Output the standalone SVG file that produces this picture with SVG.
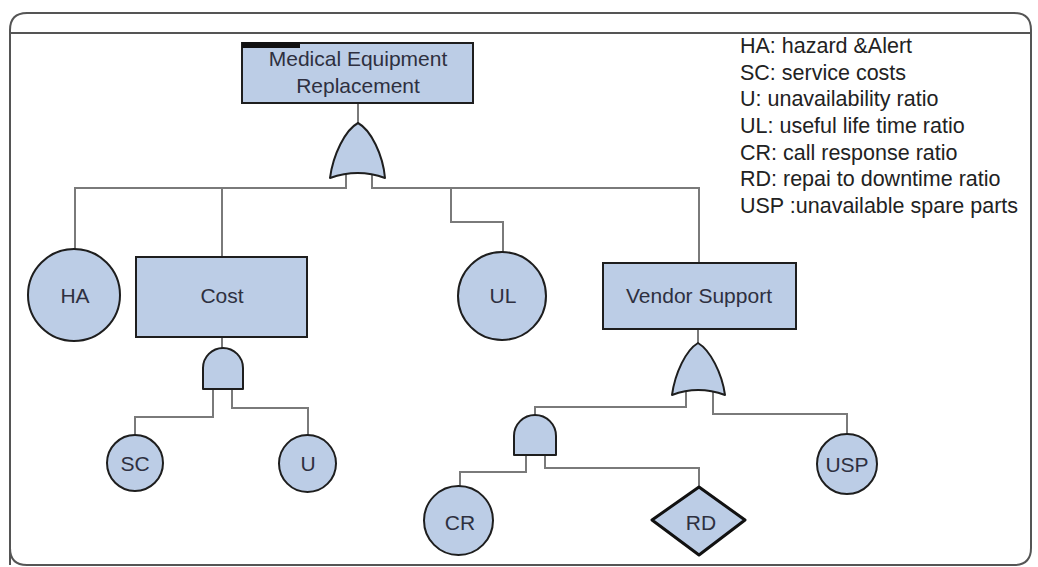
<svg xmlns="http://www.w3.org/2000/svg" width="1038" height="567" viewBox="0 0 1038 567">
  <style>
    .frame{fill:none;stroke:#555;stroke-width:2}
    .node{fill:#bccde6;stroke:#1e1e1e;stroke-width:2}
    .gate{fill:#bccde6;stroke:#1e1e1e;stroke-width:2;stroke-linejoin:round}
    .thick{fill:#bccde6;stroke:#111;stroke-width:3;stroke-linejoin:round}
    .wire{fill:none;stroke:#7a7a7a;stroke-width:2}
    .lbl{font-family:"Liberation Sans",Arial,sans-serif;font-size:21px;fill:#2e3040;text-anchor:middle}
    .leg{font-family:"Liberation Sans",Arial,sans-serif;font-size:21.5px;fill:#222}
  </style>
  <rect width="1038" height="567" fill="#fff"/>
  <g id="frame">
    <path class="frame" d="M10,565 L10,30 Q10,13 27,13 L1014,13 Q1031,13 1031,30 L1031,548 Q1031,565 1014,565 L27,565 Q10,565 10,548"/>
    <line class="frame" x1="10" y1="33" x2="1031" y2="33"/>
  </g>
  <g id="connectors">
    <polyline class="wire" points="358,103 358,123"/>
    <polyline class="wire" points="346,174 346,188 75,188 75,249"/>
    <polyline class="wire" points="222,188 222,257"/>
    <polyline class="wire" points="372,174 372,188 699,188 699,263"/>
    <polyline class="wire" points="451,188 451,222 503,222 503,252"/>
    <polyline class="wire" points="222,337 222,348"/>
    <polyline class="wire" points="213,389 213,417 135,417 135,435"/>
    <polyline class="wire" points="232,389 232,408 308,408 308,435"/>
    <polyline class="wire" points="698,329 698,343"/>
    <polyline class="wire" points="686,391 686,407 535,407 535,415"/>
    <polyline class="wire" points="713,391 713,414 847,414 847,434"/>
    <polyline class="wire" points="526,455 526,472 460,472 460,486"/>
    <polyline class="wire" points="545,455 545,468 699,468 699,487"/>
  </g>
  <g id="medical-equipment-replacement">
    <rect class="node" x="242" y="43" width="231" height="60"/>
    <rect x="242" y="42" width="58" height="6" fill="#111"/>
    <text class="lbl" x="358" y="66" font-size="22">Medical Equipment</text>
    <text class="lbl" x="358" y="92.5" font-size="22">Replacement</text>
  </g>
  <g id="or-gate-top">
    <path class="gate" d="M358,123 C345,130 333,155 330,178 Q358,168 385,178 C383,155 371,130 358,123 Z"/>
  </g>
  <g id="ha">
    <circle class="node" cx="74" cy="295" r="46"/>
    <text class="lbl" x="75" y="303">HA</text>
  </g>
  <g id="cost">
    <rect class="node" x="136" y="257" width="171" height="80"/>
    <text class="lbl" x="222" y="303">Cost</text>
  </g>
  <g id="ul">
    <circle class="node" cx="502" cy="296" r="44"/>
    <text class="lbl" x="503" y="303">UL</text>
  </g>
  <g id="vendor-support">
    <rect class="node" x="603" y="263" width="193" height="66"/>
    <text class="lbl" x="699" y="303">Vendor Support</text>
  </g>
  <g id="and-gate-cost">
    <path class="gate" d="M203,389 L203,368 A20,20 0 0 1 243,368 L243,389 Z"/>
  </g>
  <g id="sc">
    <circle class="node" cx="135" cy="463" r="28"/>
    <text class="lbl" x="135" y="471">SC</text>
  </g>
  <g id="u">
    <circle class="node" cx="307.5" cy="463.5" r="28.5"/>
    <text class="lbl" x="308" y="471">U</text>
  </g>
  <g id="or-gate-vendor">
    <path class="gate" d="M698,343 C686,350 675,373 672,395 Q698,385 725,395 C722,373 710,350 698,343 Z"/>
  </g>
  <g id="and-gate-vendor">
    <path class="gate" d="M514,455 L514,436 A21,21 0 0 1 556,436 L556,455 Z"/>
  </g>
  <g id="usp">
    <circle class="node" cx="847" cy="464" r="30"/>
    <text class="lbl" x="847" y="471.5">USP</text>
  </g>
  <g id="cr">
    <circle class="node" cx="458.5" cy="520.5" r="34.5"/>
    <text class="lbl" x="460" y="529.5">CR</text>
  </g>
  <g id="rd">
    <polygon class="thick" points="699,487 745,520 699,555 652,520"/>
    <text class="lbl" x="701" y="529.5">RD</text>
  </g>
  <g id="legend">
    <text class="leg" x="740" y="52.5">HA: hazard &amp;Alert</text>
    <text class="leg" x="740" y="79.5">SC: service costs</text>
    <text class="leg" x="740" y="105.5">U: unavailability ratio</text>
    <text class="leg" x="740" y="132.5">UL: useful life time ratio</text>
    <text class="leg" x="740" y="159.5">CR: call response ratio</text>
    <text class="leg" x="740" y="185.5">RD: repai to downtime ratio</text>
    <text class="leg" x="740" y="212.5">USP :unavailable spare parts</text>
  </g>
</svg>
